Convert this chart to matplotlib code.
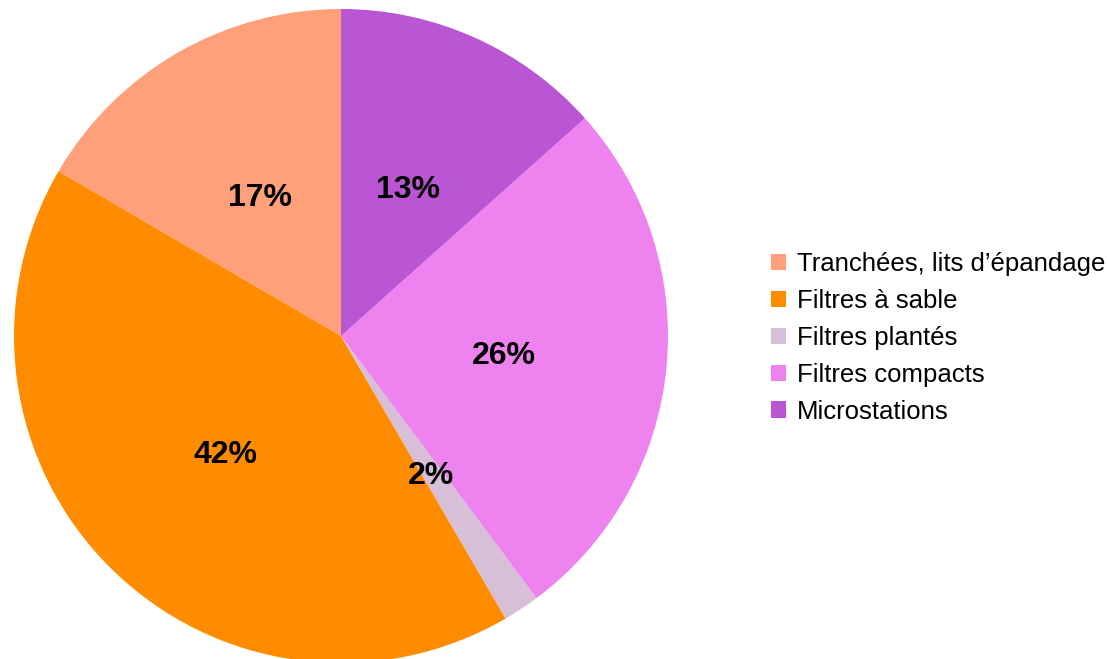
import matplotlib
matplotlib.use("Agg")
import matplotlib.pyplot as plt
from matplotlib.patches import Patch

plt.rcParams['font.family'] = ['Liberation Sans', 'DejaVu Sans']

labels = ["Tranchées, lits d’épandage", "Filtres à sable", "Filtres plantés",
          "Filtres compacts", "Microstations"]
values = [16.6, 41.8, 1.8, 26.4, 13.4]
colors = ["#FFA07A", "#FF8C00", "#D8BFD8", "#EE82EE", "#BA55D3"]

fig = plt.figure(figsize=(11.08, 6.59), dpi=100)
# pie centred at about (341, 336) px, radius ~327 px
ax = fig.add_axes([14 / 1108, (659 - 336 - 327) / 659, 654 / 1108, 654 / 659])

wedges, texts, autotexts = ax.pie(values, colors=colors, startangle=90,
                                  counterclock=True, autopct=lambda p: "%d%%" % round(p),
                                  pctdistance=0.5, wedgeprops=dict(linewidth=0),
                                  textprops=dict(fontsize=23, fontweight="bold", color="black"))
# labels sit a few pixels lower in the original
for t in autotexts:
    x, y = t.get_position()
    t.set_position((x, y - 0.011))
ax.set_xlim(-1, 1)
ax.set_ylim(-1, 1)
ax.set_aspect("equal")

handles = [Patch(facecolor=c, edgecolor="none") for c in colors]
fig.legend(handles, labels, loc="center left", bbox_to_anchor=(771 / 1108, 1 - 338 / 659),
           frameon=False, fontsize=18.5, borderpad=0, borderaxespad=0,
           handlelength=0.6, handleheight=0.6, handletextpad=0.4, labelspacing=0.5)

fig.savefig("out.png", dpi=100)
